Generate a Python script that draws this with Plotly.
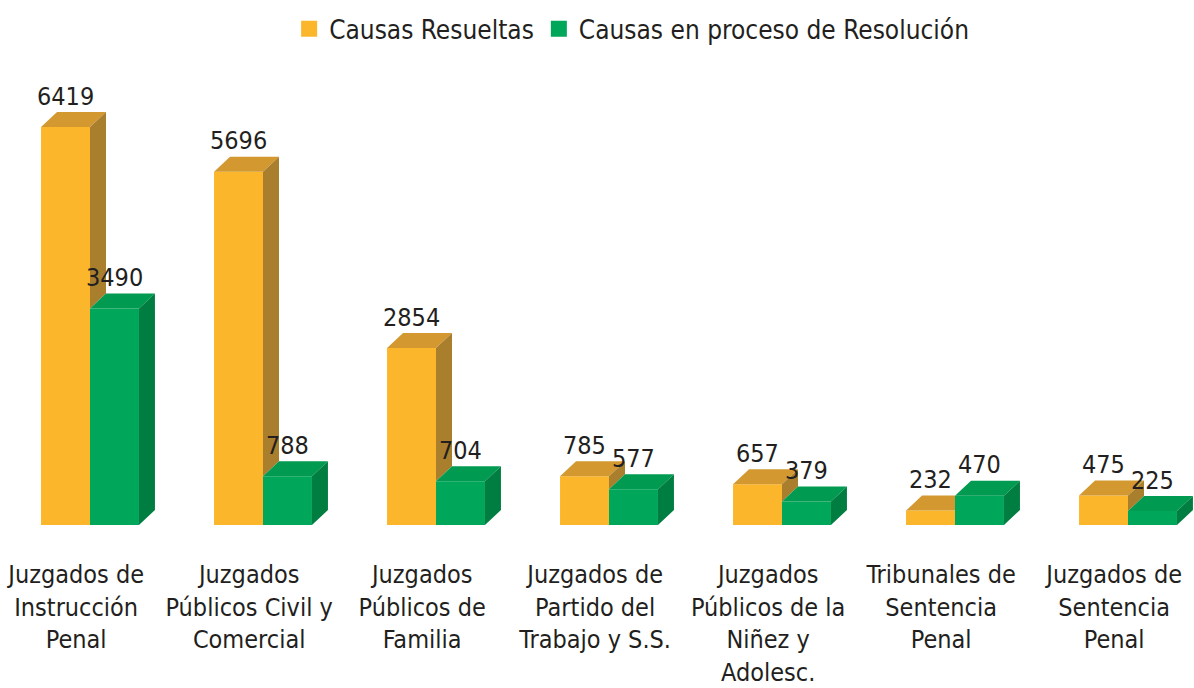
import plotly.graph_objects as go

categories = [
    "Juzgados de<br>Instrucción<br>Penal",
    "Juzgados<br>Públicos Civil y<br>Comercial",
    "Juzgados<br>Públicos de<br>Familia",
    "Juzgados de<br>Partido del<br>Trabajo y S.S.",
    "Juzgados<br>Públicos de la<br>Niñez y<br>Adolesc.",
    "Tribunales de<br>Sentencia<br>Penal",
    "Juzgados de<br>Sentencia<br>Penal",
]
resueltas = [6419, 5696, 2854, 785, 657, 232, 475]
en_proceso = [3490, 788, 704, 577, 379, 470, 225]
series_names = ["Causas Resueltas", "Causas en proceso de Resolución"]

FONT = "Liberation Sans Narrow, Arial Narrow, DejaVu Sans Condensed, sans-serif"
TXT = "#231f20"
ORANGE = {"front": "#fbb62b", "top": "#d3982f", "side": "#a97f2e"}
GREEN = {"front": "#00a65a", "top": "#009a50", "side": "#007d40"}

W, H = 1194, 688
M_T, M_B = 60, 163
BARGAP = 0.434
PX_PER_X = 173.0
X0_PX = 90.0
x_range = [-X0_PX / PX_PER_X, (W - X0_PX) / PX_PER_X]
Y_MAX = 7500
plot_h = H - M_T - M_B
px_per_y = plot_h / Y_MAX
DX = 16 / PX_PER_X
DY = 15 / px_per_y
half = (1 - BARGAP) / 2

xs = list(range(len(categories)))

fig = go.Figure()
fig.add_trace(go.Bar(x=xs, y=resueltas, marker=dict(color=ORANGE["front"], line=dict(width=0)),
                     showlegend=False, hoverinfo="skip"))
fig.add_trace(go.Bar(x=xs, y=en_proceso, marker=dict(color=GREEN["front"], line=dict(width=0)),
                     showlegend=False, hoverinfo="skip"))


def poly(pts, color):
    px = [p[0] for p in pts] + [pts[0][0]]
    py = [p[1] for p in pts] + [pts[0][1]]
    fig.add_trace(go.Scatter(x=px, y=py, mode="lines", fill="toself", fillcolor=color,
                             line=dict(width=0, color=color), showlegend=False, hoverinfo="skip"))


for i in xs:
    v, g = resueltas[i], en_proceso[i]
    a, b, c = i - half, i, i + half
    if v >= g:
        poly([(a, v), (b, v), (b + DX, v + DY), (a + DX, v + DY)], ORANGE["top"])
        poly([(b, g), (b + DX, g + DY), (b + DX, v + DY), (b, v)], ORANGE["side"])
    else:
        poly([(a, v), (b, v), (b, v + DY), (a + DX, v + DY)], ORANGE["top"])
    poly([(b, g), (c, g), (c + DX, g + DY), (b + DX, g + DY)], GREEN["top"])
    poly([(c, 0), (c + DX, DY), (c + DX, g + DY), (c, g)], GREEN["side"])

for name, col in zip(series_names, [ORANGE["front"], GREEN["front"]]):
    fig.add_trace(go.Scatter(x=[None], y=[None], mode="markers", name=name,
                             marker=dict(symbol="square", size=17, color=col)))

for i in xs:
    for val, off in ((resueltas[i], -half / 2), (en_proceso[i], half / 2)):
        fig.add_annotation(x=i + off, y=val, text=str(val), showarrow=False,
                           yanchor="middle", yshift=31,
                           font=dict(family=FONT, size=25, color=TXT))

fig.update_layout(
    width=W, height=H,
    margin=dict(l=0, r=0, t=M_T, b=M_B),
    paper_bgcolor="white", plot_bgcolor="white",
    barmode="group", bargap=BARGAP, bargroupgap=0,
    font=dict(family=FONT, color=TXT),
    legend=dict(orientation="h", x=0.529, xanchor="center", yref="container", y=0.958,
                yanchor="middle", font=dict(family=FONT, size=26, color=TXT),
                bgcolor="rgba(0,0,0,0)"),
    xaxis=dict(range=x_range, tickvals=[i - 0.08 for i in xs], ticktext=categories,
               showgrid=False, zeroline=False, showline=False, ticks="",
               automargin=False, ticklabelstandoff=32,
               tickfont=dict(family=FONT, size=25, color=TXT), fixedrange=True),
    yaxis=dict(range=[0, Y_MAX], visible=False, fixedrange=True, automargin=False),
)

fig.write_html("out.html", config={"displayModeBar": False},
               post_script="document.body.style.margin='0';")
